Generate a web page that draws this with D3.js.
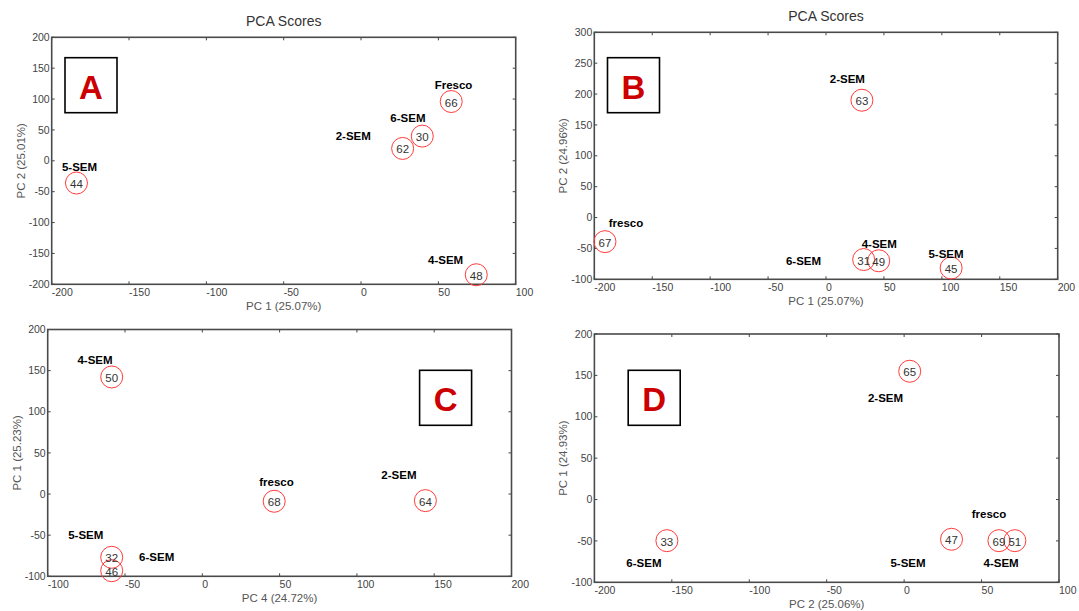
<!DOCTYPE html>
<html>
<head>
<meta charset="utf-8">
<script src="https://cdn.jsdelivr.net/npm/d3@7"></script>
<style>
  html, body { margin: 0; padding: 0; background: #fff; }
  svg { display: block; font-family: "Liberation Sans", Arial, sans-serif; }
</style>
</head>
<body>
<svg id="chart" width="1079" height="611"></svg>
<script>
// ---------- Panel A ----------
const aXTicks = [-200, -150, -100, -50, 0, 50, 100];
const aYTicks = [-200, -150, -100, -50, 0, 50, 100, 150, 200];
const aIds = ["44", "62", "30", "66", "48"];
const aX = [-184, 26.9, 39.6, 58.3, 74.5];
const aY = [-36, 20, 40, 96, -184.5];
const aGroups = ["5-SEM", "2-SEM", "6-SEM", "Fresco", "4-SEM"];
const aGroupX = [-182, -5, 30.3, 59.8, 54.7];
const aGroupY = [-10.5, 41, 69, 123, -160.6];

// ---------- Panel B ----------
const bXTicks = [-200, -150, -100, -50, 0, 50, 100, 150, 200];
const bYTicks = [-100, -50, 0, 50, 100, 150, 200, 250, 300];
const bIds = ["63", "67", "31", "49", "45"];
const bX = [31, -190.8, 32.5, 45.5, 108];
const bY = [190, -39, -68, -70, -81.7];
const bGroups = ["2-SEM", "fresco", "6-SEM", "4-SEM", "5-SEM"];
const bGroupX = [18.4, -172.6, -19.4, 46, 103.6];
const bGroupY = [224, -9.3, -71, -43, -59.5];

// ---------- Panel C ----------
const cXTicks = [-100, -50, 0, 50, 100, 150, 200];
const cYTicks = [-100, -50, 0, 50, 100, 150, 200];
const cIds = ["50", "68", "64", "32", "46"];
const cX = [-58.6, 46.5, 144.3, -58.6, -58.6];
const cY = [142.3, -8.8, -8, -76.9, -93.2];
const cGroups = ["4-SEM", "fresco", "2-SEM", "5-SEM", "6-SEM"];
const cGroupX = [-69.4, 48, 127.2, -75.4, -29.5];
const cGroupY = [163, 15, 23.5, -49.4, -76.9];

// ---------- Panel D ----------
const dXTicks = [-200, -150, -100, -50, 0, 50, 100];
const dYTicks = [-100, -50, 0, 50, 100, 150, 200];
const dIds = ["65", "33", "47", "69", "51"];
const dX = [3.6, -153.2, 30.6, 61.2, 71.5];
const dY = [155, -49.7, -48, -49.7, -49.7];
const dGroups = ["2-SEM", "6-SEM", "5-SEM", "fresco", "4-SEM"];
const dGroupX = [-12, -168, 2.5, 54.8, 62.6];
const dGroupY = [122.7, -76.3, -76.3, -17, -76.3];

const svg = d3.select("#chart");

function drawPanel(cfg) {
  const g = svg.append("g").attr("transform", `translate(${cfg.left},${cfg.top})`);
  const w = cfg.width, h = cfg.height;
  const x = d3.scaleLinear().domain(cfg.xDomain).range([0, w]);
  const y = d3.scaleLinear().domain(cfg.yDomain).range([h, 0]);

  // Title
  if (cfg.title) {
    g.append("text").attr("x", w / 2).attr("y", -11)
      .attr("text-anchor", "middle").attr("font-size", 14).attr("fill", "#333")
      .text(cfg.title);
  }

  // Inward ticks on all four sides
  const tickLen = 3;
  const tickCol = "#444";
  cfg.xTicks.forEach(t => {
    g.append("line").attr("x1", x(t)).attr("x2", x(t)).attr("y1", h).attr("y2", h - tickLen)
      .attr("stroke", tickCol).attr("stroke-width", 1);
    g.append("line").attr("x1", x(t)).attr("x2", x(t)).attr("y1", 0).attr("y2", tickLen)
      .attr("stroke", tickCol).attr("stroke-width", 1);
  });
  cfg.yTicks.forEach(t => {
    g.append("line").attr("x1", 0).attr("x2", tickLen).attr("y1", y(t)).attr("y2", y(t))
      .attr("stroke", tickCol).attr("stroke-width", 1);
    g.append("line").attr("x1", w).attr("x2", w - tickLen).attr("y1", y(t)).attr("y2", y(t))
      .attr("stroke", tickCol).attr("stroke-width", 1);
  });

  // Tick labels: x labels left-aligned at the tick, y labels right-aligned
  g.selectAll(null).data(cfg.xTicks).enter().append("text")
    .attr("x", d => x(d)).attr("y", h + 12)
    .attr("text-anchor", "start").attr("font-size", 10.5).attr("fill", "#444")
    .text(d => d);
  g.selectAll(null).data(cfg.yTicks).enter().append("text")
    .attr("x", -2).attr("y", d => y(d)).attr("dy", "0.35em")
    .attr("text-anchor", "end").attr("font-size", 10.5).attr("fill", "#444")
    .text(d => d);

  // Plot frame
  g.append("rect").attr("x", 0).attr("y", 0).attr("width", w).attr("height", h)
    .attr("fill", "none").attr("stroke", "#4a4a4a").attr("stroke-width", 1.6);

  // Axis titles
  g.append("text").attr("x", w / 2).attr("y", h + 26)
    .attr("text-anchor", "middle").attr("font-size", 11.5).attr("fill", "#555")
    .text(cfg.xLabel);
  g.append("text")
    .attr("transform", `translate(${-31},${h / 2}) rotate(-90)`)
    .attr("dy", "0.35em")
    .attr("text-anchor", "middle").attr("font-size", 11.5).attr("fill", "#555")
    .text(cfg.yLabel);

  // Points (circles with sample numbers)
  const pts = cfg.ids.map((id, i) => ({ id, x: cfg.px[i], y: cfg.py[i] }));
  g.selectAll(null).data(pts).enter().append("circle")
    .attr("cx", d => x(d.x)).attr("cy", d => y(d.y)).attr("r", 11)
    .attr("fill", "none").attr("stroke", "#ff3b3b").attr("stroke-width", 1);
  g.selectAll(null).data(pts).enter().append("text")
    .attr("x", d => x(d.x)).attr("y", d => y(d.y) + 1).attr("dy", "0.35em")
    .attr("text-anchor", "middle").attr("font-size", 11.5).attr("fill", "#333")
    .text(d => d.id);

  // Group labels
  const labs = cfg.groups.map((t, i) => ({ t, x: cfg.gx[i], y: cfg.gy[i] }));
  g.selectAll(null).data(labs).enter().append("text")
    .attr("x", d => x(d.x)).attr("y", d => y(d.y)).attr("dy", "0.35em")
    .attr("text-anchor", "middle").attr("font-size", 11.5).attr("font-weight", "bold")
    .attr("fill", "#000")
    .text(d => d.t);

  // Panel letter box
  g.append("rect").attr("x", cfg.box[0]).attr("y", cfg.box[1]).attr("width", 52).attr("height", 55)
    .attr("fill", "#fff").attr("stroke", "#000").attr("stroke-width", 1.6);
  g.append("text").attr("x", cfg.box[0] + 26).attr("y", cfg.box[1] + 41)
    .attr("text-anchor", "middle").attr("font-size", 33).attr("font-weight", "bold")
    .attr("fill", "#cc0000").text(cfg.letter);
}

drawPanel({
  left: 51.7, top: 37.3, width: 464, height: 247,
  xDomain: [-200, 100], yDomain: [-200, 200],
  xTicks: aXTicks, yTicks: aYTicks,
  ids: aIds, px: aX, py: aY, groups: aGroups, gx: aGroupX, gy: aGroupY,
  title: "PCA Scores", xLabel: "PC 1 (25.07%)", yLabel: "PC 2 (25.01%)",
  letter: "A", box: [13.3, 20.4]
});
drawPanel({
  left: 594.3, top: 32.3, width: 463.4, height: 247,
  xDomain: [-200, 200], yDomain: [-100, 300],
  xTicks: bXTicks, yTicks: bYTicks,
  ids: bIds, px: bX, py: bY, groups: bGroups, gx: bGroupX, gy: bGroupY,
  title: "PCA Scores", xLabel: "PC 1 (25.07%)", yLabel: "PC 2 (24.96%)",
  letter: "B", box: [13.2, 25.4]
});
drawPanel({
  left: 47.7, top: 329.5, width: 463.8, height: 246.8,
  xDomain: [-100, 200], yDomain: [-100, 200],
  xTicks: cXTicks, yTicks: cYTicks,
  ids: cIds, px: cX, py: cY, groups: cGroups, gx: cGroupX, gy: cGroupY,
  title: null, xLabel: "PC 4 (24.72%)", yLabel: "PC 1 (25.23%)",
  letter: "C", box: [371.9, 40.8]
});
drawPanel({
  left: 594.4, top: 334, width: 464.6, height: 248.3,
  xDomain: [-200, 100], yDomain: [-100, 200],
  xTicks: dXTicks, yTicks: dYTicks,
  ids: dIds, px: dX, py: dY, groups: dGroups, gx: dGroupX, gy: dGroupY,
  title: null, xLabel: "PC 2 (25.06%)", yLabel: "PC 1 (24.93%)",
  letter: "D", box: [33.8, 36.3]
});
</script>
</body>
</html>
